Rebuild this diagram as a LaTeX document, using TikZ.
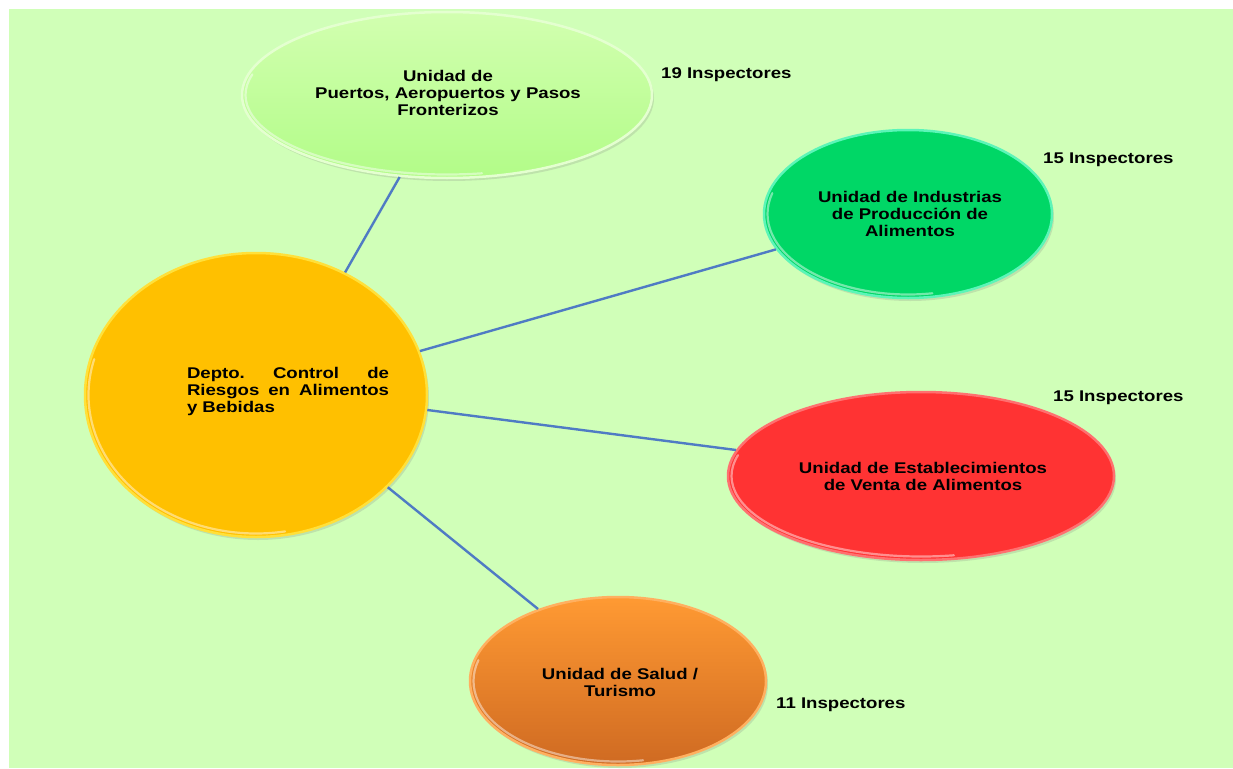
\documentclass[tikz,border=0pt]{standalone}
\usepackage{fontspec}
\setmainfont{Liberation Sans}[FakeStretch=1.2]
\usetikzlibrary{shapes.geometric,shadows}
\definecolor{bgc}{HTML}{D0FFB8}
\definecolor{linec}{HTML}{4F7BC4}
\definecolor{cYel}{HTML}{FFC000}
\definecolor{cYelRim}{HTML}{FFE03A}
\definecolor{cLgT}{HTML}{D2FFB0}
\definecolor{cLgB}{HTML}{B2FC88}
\definecolor{cLgRim}{HTML}{E4FFD0}
\definecolor{cGrn}{HTML}{00D766}
\definecolor{cGrnRim}{HTML}{5CF5B8}
\definecolor{cRed}{HTML}{FF3333}
\definecolor{cRedRim}{HTML}{FF7070}
\definecolor{cOrT}{HTML}{FF9A33}
\definecolor{cOrB}{HTML}{CF6A22}
\definecolor{cOrRim}{HTML}{FFB060}
\newcommand\myhilite[3]{%
  \draw[white,opacity=.45,line width=2.2pt,line cap=round]
    (#1.center) ++(195:{#2-3.5} and {#3-3.5})
    arc[start angle=195,end angle=80,x radius={#2-3.5},y radius={#3-3.5}];}
\begin{document}
\begin{tikzpicture}[x=1pt,y=-1pt,
  ell/.style={ellipse,inner sep=0pt,line width=2.5pt,
    drop shadow={opacity=.22,shadow xshift=2pt,shadow yshift=-3pt}},
  txt/.style={font=\fontsize{15.5}{17}\selectfont\bfseries,align=center,inner sep=0pt},
  lbl/.style={font=\fontsize{15.5}{17}\selectfont\bfseries,anchor=west,inner sep=0pt},
  conn/.style={draw=linec,line width=2.4pt}]
\useasboundingbox (0,0) rectangle (1233,768);
\fill[white] (0,0) rectangle (1233,768);
\fill[bgc] (9,9) rectangle (1233,768);

% ellipses
\node[ell,fill=cYel,draw=cYelRim,minimum width=342pt,minimum height=284pt] (c) at (256,395) {};
\node[ell,top color=cLgT,bottom color=cLgB,draw=cLgRim,minimum width=410pt,minimum height=166pt] (t) at (447,95) {};
\node[ell,fill=cGrn,draw=cGrnRim,minimum width=288pt,minimum height=168pt] (g) at (908,214) {};
\node[ell,fill=cRed,draw=cRedRim,minimum width=386pt,minimum height=168pt] (r) at (921,476) {};
\node[ell,top color=cOrT,bottom color=cOrB,draw=cOrRim,minimum width=296pt,minimum height=168pt] (o) at (618,681) {};

\myhilite{c}{171}{142}
\myhilite{t}{205}{83}
\myhilite{g}{144}{84}
\myhilite{r}{193}{84}
\myhilite{o}{148}{84}

% connectors
\draw[conn] (c.54) -- (t.240);
\draw[conn] (c.15) -- (g.195.5);
\draw[conn] (c.-5) -- (r.172.7);
\draw[conn] (c.-35) -- (o.138.8);

% texts
\node[txt,align=left] (ct) at (288,391)
  {\hbox to 202pt{Depto.\hfill Control\hfill de}\\
   \hbox to 202pt{Riesgos\hfill en\hfill Alimentos}\\
   \hbox to 202pt{y Bebidas\hfill}};
\node[txt] (tt) at (448,93) {Unidad de\\Puertos, Aeropuertos y Pasos\\Fronterizos};
\node[txt] (gt) at (910,214) {Unidad de Industrias\\de Producción de\\Alimentos};
\node[txt] (rt) at (923,476) {Unidad de Establecimientos\\de Venta de Alimentos};
\node[txt] (ot) at (620,682) {Unidad de Salud /\\Turismo};

% labels
\node[lbl] (l1) at (661,75) {19 Inspectores};
\node[lbl] (l2) at (1043,160) {15 Inspectores};
\node[lbl] (l3) at (1053,398) {15 Inspectores};
\node[lbl] (l4) at (776,705) {11 Inspectores};
\end{tikzpicture}
\end{document}
